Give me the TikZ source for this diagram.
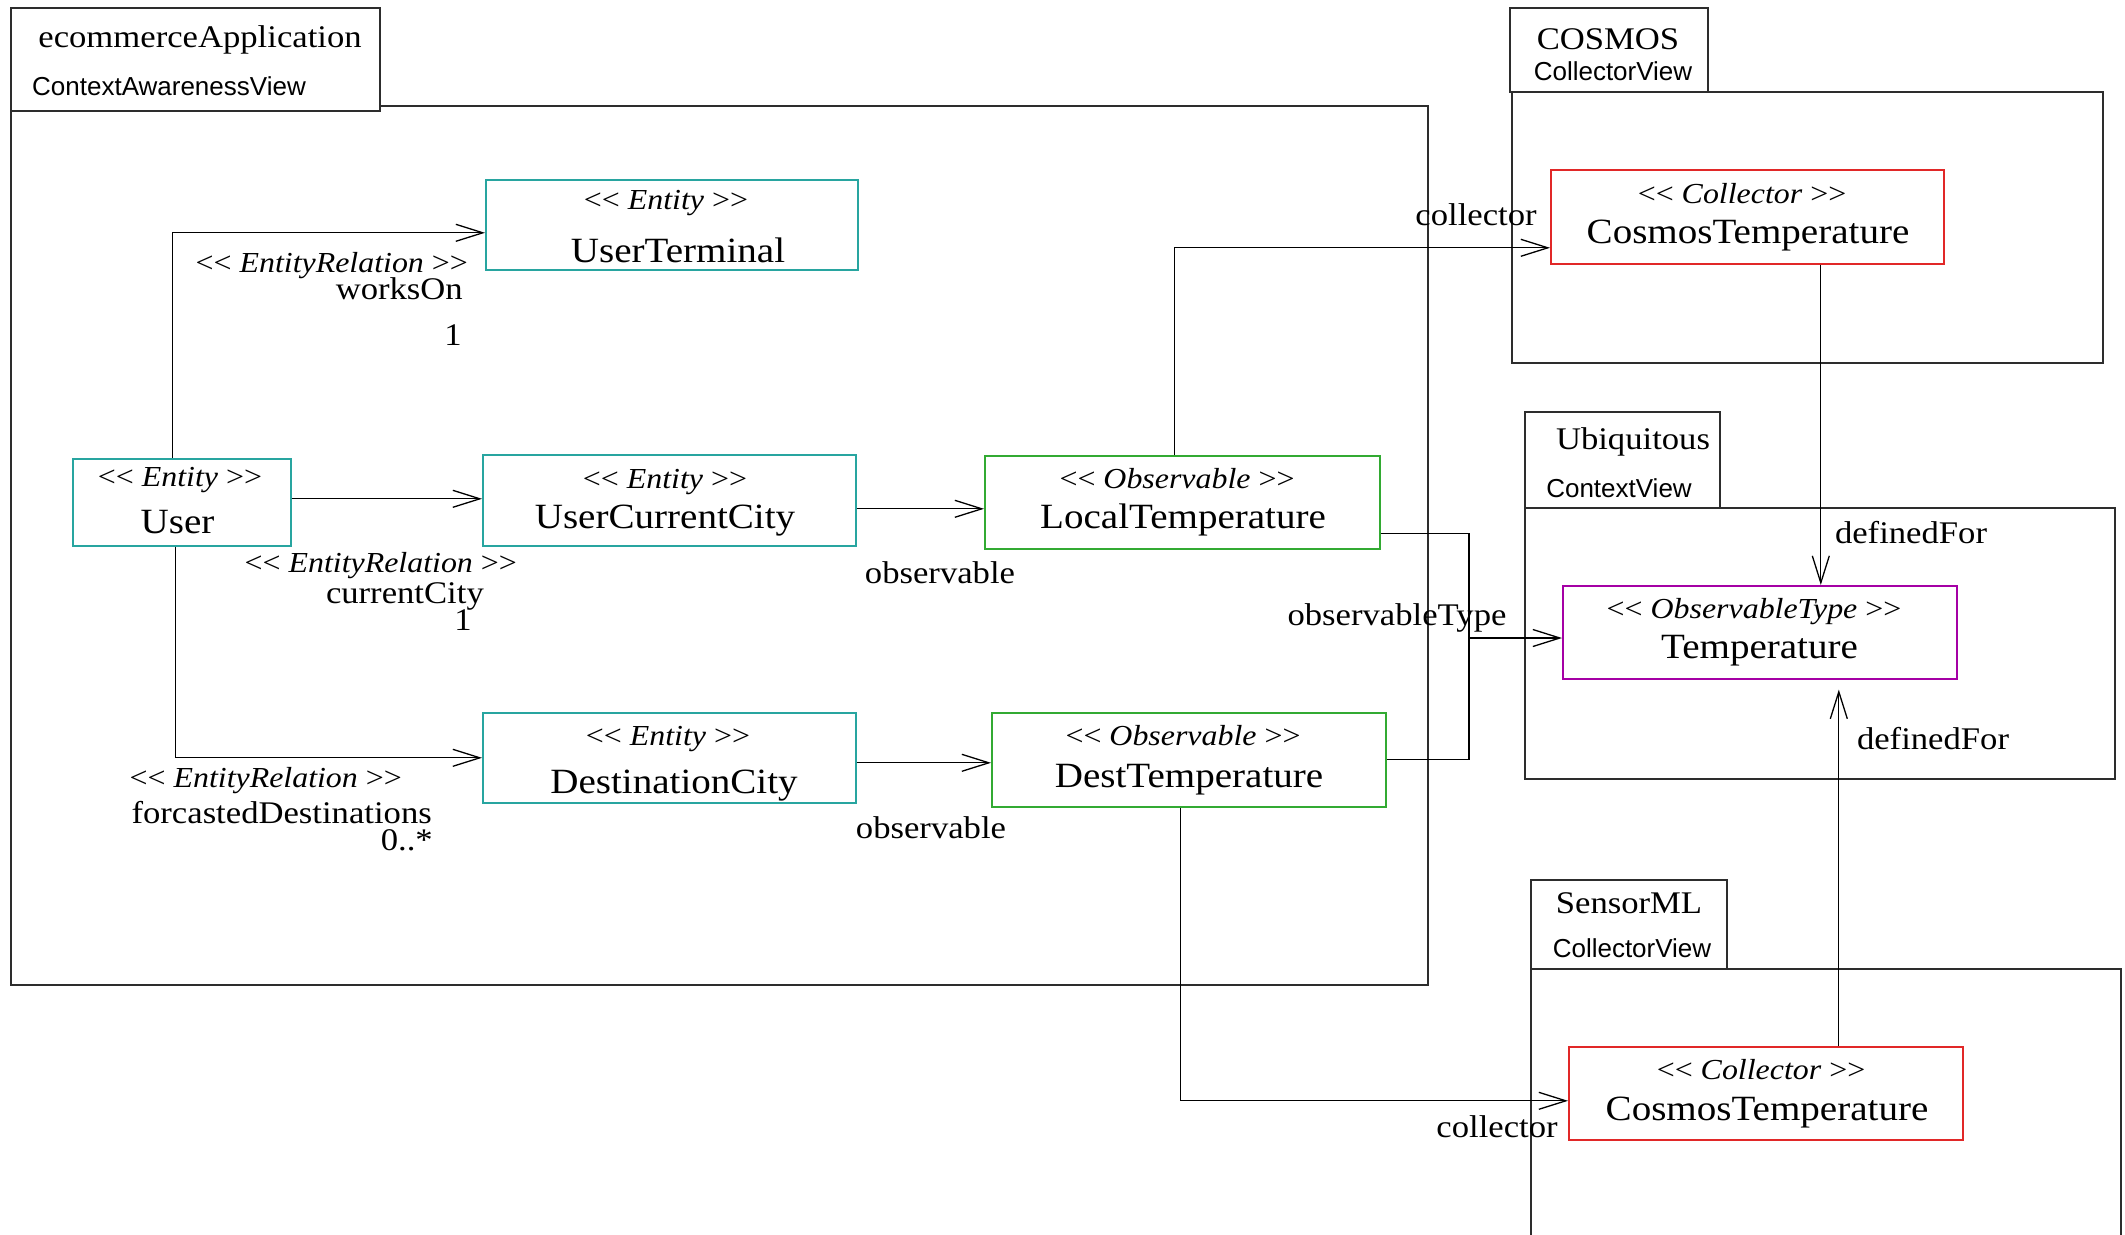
\documentclass[tikz,border=0pt]{standalone}
\usepackage{fontspec}
\setmainfont{Liberation Serif}[FakeStretch=1.1]
\newfontfamily\pkgsansfamily{Liberation Sans}
\usetikzlibrary{arrows.meta}
\definecolor{entcol}{RGB}{40,165,160}
\definecolor{obscol}{RGB}{50,170,50}
\definecolor{colcol}{RGB}{225,40,40}
\definecolor{typcol}{RGB}{165,0,165}
\definecolor{pkgcol}{RGB}{45,45,45}
\newcommand\stlt{\mbox{<}\mbox{<}}
\newcommand\stgt{\mbox{>}\mbox{>}}
\newcommand\lblsize{\fontsize{31.5}{36}\selectfont}
\newcommand\stsize{\fontsize{29}{34}\selectfont}
\newcommand\clssize{\fontsize{35.5}{40}\selectfont}
\newcommand\viewsize{\pkgsansfamily\fontsize{26}{30}\selectfont}
\tikzset{
  pkgframe/.style={draw=pkgcol, line width=1.5pt},
  clsbox/.style={line width=1.6pt, inner sep=0pt, anchor=north west},
  entbox/.style={clsbox, draw=entcol},
  obsbox/.style={clsbox, draw=obscol},
  colbox/.style={clsbox, draw=colcol},
  typbox/.style={clsbox, draw=typcol},
  txt/.style={inner sep=0pt, anchor=base},
  lbl/.style={txt, font=\lblsize},
  stereo/.style={txt, font=\stsize},
  cname/.style={txt, font=\clssize},
  pview/.style={txt, font=\viewsize},
  conn/.style={draw=black, line width=1.3pt},
  arr/.style={conn, -{Straight Barb[length=27pt,width=17pt]}},
}
\begin{document}
\begin{tikzpicture}[x=1pt,y=-1pt]
\useasboundingbox (0,0) rectangle (2125,1234);
\fill[white] (0,0) rectangle (2125,1234);

% ---------- packages ----------
\draw[pkgframe] (11,8) rectangle (380,111);
\draw[pkgframe] (380,106) -- (1428,106) -- (1428,985) -- (11,985) -- (11,111);
\node[lbl] (tecom) at (200,47) {ecommerceApplication};
\node[pview] (tcav) at (169,95) {ContextAwarenessView};

\draw[pkgframe] (1510,8) rectangle (1708,92);
\draw[pkgframe] (1512,92) rectangle (2103,363);
\node[lbl] (tcos) at (1608,49) {COSMOS};
\node[pview] (tcosv) at (1613,80) {CollectorView};

\draw[pkgframe] (1525,412) rectangle (1720,508);
\draw[pkgframe] (1525,508) rectangle (2115,779);
\node[lbl] (tubi) at (1633,449) {Ubiquitous};
\node[pview] (tubiv) at (1619,497) {ContextView};

\draw[pkgframe] (1531,880) rectangle (1727,969);
\draw[pkgframe] (1531,1245) -- (1531,969) -- (2121,969) -- (2121,1245);
\node[lbl] (tsml) at (1629,913) {SensorML};
\node[pview] (tsmlv) at (1632,957) {CollectorView};

% ---------- classes ----------
\node[entbox, minimum width=372pt, minimum height=90pt] (ut) at (485,179) {};
\node[stereo] (uts) at (666,209) {\stlt{} \textit{Entity} \stgt};
\node[cname] (utn) at (678,262) {UserTerminal};

\node[entbox, minimum width=218pt, minimum height=87pt] (user) at (72,458) {};
\node[stereo] (users) at (180,486) {\stlt{} \textit{Entity} \stgt};
\node[cname] (usern) at (177.5,533) {User};

\node[entbox, minimum width=373pt, minimum height=91pt] (ucc) at (482,454) {};
\node[stereo] (uccs) at (665,488) {\stlt{} \textit{Entity} \stgt};
\node[cname] (uccn) at (665,528) {UserCurrentCity};

\node[entbox, minimum width=373pt, minimum height=90pt] (dc) at (482,712) {};
\node[stereo] (dcs) at (668,745) {\stlt{} \textit{Entity} \stgt};
\node[cname] (dcn) at (674,793) {DestinationCity};

\node[obsbox, minimum width=395pt, minimum height=93pt] (lt) at (984,455) {};
\node[stereo] (lts) at (1177,488) {\stlt{} \textit{Observable} \stgt};
\node[cname] (ltn) at (1183,528) {LocalTemperature};

\node[obsbox, minimum width=394pt, minimum height=94pt] (dt) at (991,712) {};
\node[stereo] (dts) at (1183,745) {\stlt{} \textit{Observable} \stgt};
\node[cname] (dtn) at (1189,787) {DestTemperature};

\node[typbox, minimum width=394pt, minimum height=93pt] (temp) at (1562,585) {};
\node[stereo] (temps) at (1754,618) {\stlt{} \textit{ObservableType} \stgt};
\node[cname] (tempn) at (1759.5,658) {Temperature};

\node[colbox, minimum width=393pt, minimum height=94pt] (ct1) at (1550,169) {};
\node[stereo] (ct1s) at (1742,203) {\stlt{} \textit{Collector} \stgt};
\node[cname] (ct1n) at (1748,243) {CosmosTemperature};

\node[colbox, minimum width=394pt, minimum height=93pt] (ct2) at (1568,1046) {};
\node[stereo] (ct2s) at (1761,1079) {\stlt{} \textit{Collector} \stgt};
\node[cname] (ct2n) at (1767,1120) {CosmosTemperature};

% ---------- connectors ----------
\draw[arr] ([xshift=-9.5pt]user.north) |- ([yshift=-8pt]ut.west);
\draw[arr] ([yshift=3.5pt]user.east) -- ([yshift=1.5pt]ucc.west);
\draw[arr] ([xshift=-6pt]user.south) |- (dc.west);
\draw[arr] ([yshift=-8.5pt]ucc.east) -- ([yshift=-6.5pt]lt.west);
\draw[arr] ([yshift=-5pt]dc.east) -- ([yshift=-3pt]dt.west);
\coordinate (jt) at (1469,638);
\draw[conn] ([yshift=-31.5pt]lt.east) -| (jt) |- (dt.east);
\draw[arr] (jt) -- (temp.west |- jt);
\draw[arr] ([xshift=-7.5pt]lt.north) |- ([yshift=-31pt]ct1.west);
\draw[arr] ([xshift=73.5pt]ct1.south) -- ([xshift=61pt]temp.north);
\draw[arr] ([xshift=73pt]ct2.north) -- ([xshift=79pt,yshift=-10pt]temp.south);
\draw[arr] ([xshift=-8pt]dt.south) |- ([yshift=-7.5pt]ct2.west);

% ---------- connector labels ----------
\node[stereo, anchor=base east] (l1a) at (468,272) {\stlt{} \textit{EntityRelation} \stgt};
\node[lbl, anchor=base east] (l1b) at (463,299) {worksOn};
\node[lbl, anchor=base east] (l1c) at (462,345) {1};

\node[stereo, anchor=base east] (l2a) at (517,572) {\stlt{} \textit{EntityRelation} \stgt};
\node[lbl, anchor=base east] (l2b) at (484,603) {currentCity};
\node[lbl, anchor=base east] (l2c) at (472,630) {1};

\node[stereo, anchor=base east] (l3a) at (402,787) {\stlt{} \textit{EntityRelation} \stgt};
\node[lbl, anchor=base east] (l3b) at (432,823) {forcastedDestinations};
\node[lbl, anchor=base east] (l3c) at (433,850) {0..*};

\node[lbl] (l4) at (940,583) {observable};
\node[lbl] (l5) at (931,838) {observable};
\node[lbl] (l6) at (1397,625) {observableType};
\node[lbl] (l7) at (1476,225) {collector};
\node[lbl] (l8) at (1911,543) {definedFor};
\node[lbl] (l9) at (1933,749) {definedFor};
\node[lbl] (l10) at (1497,1137) {collector};
\end{tikzpicture}
\end{document}
